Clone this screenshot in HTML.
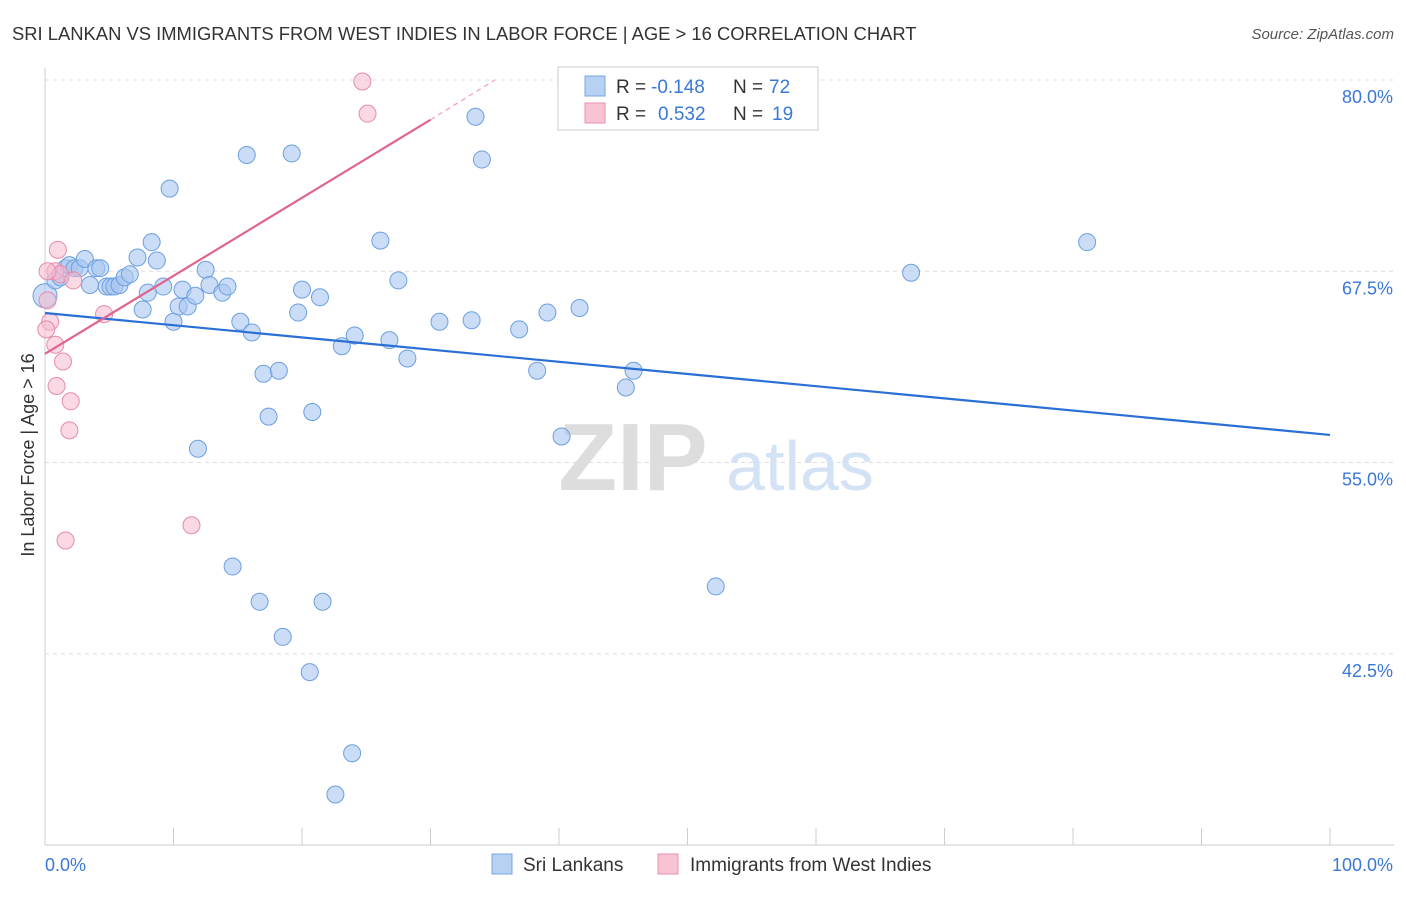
<!DOCTYPE html>
<html><head><meta charset="utf-8"><style>
body{margin:0;background:#fff;font-family:"Liberation Sans",sans-serif}
svg text{font-family:"Liberation Sans",sans-serif}
</style></head><body>
<svg width="1406" height="892" xmlns="http://www.w3.org/2000/svg">
<text x="12" y="40" font-size="18.4" fill="#333">SRI LANKAN VS IMMIGRANTS FROM WEST INDIES IN LABOR FORCE | AGE &gt; 16 CORRELATION CHART</text>
<text x="1394" y="39" font-size="15" fill="#555" font-style="italic" text-anchor="end">Source: ZipAtlas.com</text>
<g id="grid"></g>
<g><text x="633" y="490" font-size="96" fill="#ddd" text-anchor="middle" font-family="Liberation Serif" font-weight="bold">ZIP</text><text x="800" y="490" font-size="70" fill="#d4e2f5" text-anchor="middle">atlas</text></g>
<g id="axes"></g>
<g id="pts"></g>
<g id="lines"></g>
<text transform="translate(34,455) rotate(-90)" font-size="18" fill="#333" text-anchor="middle">In Labor Force | Age &gt; 16</text>
<g>
<rect x="558" y="67" width="260" height="63" fill="#fff" stroke="#ccc"/>
<rect x="585" y="76" width="20" height="20" fill="#b7d1f3" stroke="#7aa6e0"/>
<text x="616" y="93" font-size="19" fill="#333">R = </text><text x="651" y="93" font-size="19" fill="#3a78d6">-0.148</text>
<text x="733" y="93" font-size="19" fill="#333">N = </text><text x="769" y="93" font-size="19" fill="#3a78d6">72</text>
<rect x="585" y="103" width="20" height="20" fill="#f8c4d4" stroke="#e891ae"/>
<text x="616" y="120" font-size="19" fill="#333">R = </text><text x="658" y="120" font-size="19" fill="#3a78d6">0.532</text>
<text x="733" y="120" font-size="19" fill="#333">N = </text><text x="772" y="120" font-size="19" fill="#3a78d6">19</text>
</g>
<g>
<rect x="492" y="854" width="20" height="20" fill="#b7d1f3" stroke="#7aa6e0"/>
<text x="523" y="871" font-size="19" fill="#333">Sri Lankans</text>
<rect x="658" y="854" width="20" height="20" fill="#f8c4d4" stroke="#e891ae"/>
<text x="690" y="871" font-size="19" fill="#333">Immigrants from West Indies</text>
</g>
</svg>
<script>
const yTicks=[80,67.5,55,42.5];
const yTickLabels=["80.0%","67.5%","55.0%","42.5%"];
const xTicks=[0,10,20,30,40,50,60,70,80,90,100];
const blueX=[0.0,0.8,1.2,1.6,1.9,2.3,2.7,3.1,3.5,4.0,4.3,4.8,5.1,5.4,5.8,6.2,6.6,7.2,7.6,8.0,8.3,8.7,9.2,9.7,10.0,10.4,10.7,11.1,11.7,11.9,12.5,12.8,13.8,14.2,14.6,15.2,15.7,16.1,16.7,17.0,17.4,18.2,18.5,19.2,19.7,20.0,20.6,20.8,21.4,21.6,22.6,23.1,23.9,24.1,26.1,26.8,27.5,28.2,30.7,33.2,33.5,34.0,36.9,38.3,39.1,40.2,41.6,45.2,45.8,52.2,67.4,81.1];
const blueY=[65.9,66.9,67.1,67.7,67.9,67.7,67.7,68.3,66.6,67.7,67.7,66.5,66.5,66.5,66.6,67.1,67.3,68.4,65.0,66.1,69.4,68.2,66.5,72.9,64.2,65.2,66.3,65.2,65.9,55.9,67.6,66.6,66.1,66.5,48.2,64.2,75.1,63.5,45.9,60.8,58.0,61.0,43.6,75.2,64.8,66.3,41.3,58.3,65.8,45.9,33.3,62.6,36.0,63.3,69.5,63.0,66.9,61.8,64.2,64.3,77.6,74.8,63.7,61.0,64.8,56.7,65.1,59.9,61.0,46.9,67.4,69.4];
const pinkX=[24.7,25.1,1.0,0.8,1.2,2.2,0.2,0.4,0.8,1.4,0.9,2.0,1.9,4.6,1.6,11.4,0.1,0.2];
const pinkY=[79.9,77.8,68.9,67.5,67.3,66.9,65.6,64.2,62.7,61.6,60.0,59.0,57.1,64.7,49.9,50.9,63.7,67.5];
const blueLine=[[0,64.77],[100,56.8]];
const pinkLine=[[0,62.1],[30,77.4],[35,80]];
const X=v=>45+v*12.85, Y=v=>80+(80-v)*15.3;
const NS="http://www.w3.org/2000/svg";
function mk(t,a,p){const e=document.createElementNS(NS,t);for(const k in a)e.setAttribute(k,a[k]);p.appendChild(e);return e;}
const grid=document.getElementById('grid'),axes=document.getElementById('axes'),pts=document.getElementById('pts'),lines=document.getElementById('lines');
yTicks.forEach((v,i)=>{
 const l=mk('line',{x1:45,x2:1394,y1:Y(v),y2:Y(v),stroke:'#ddd','stroke-dasharray':'4,4'},grid);
 
 
 const t=mk('text',{x:1393,y:Y(v)+23,'font-size':18,fill:'#3a78d6','text-anchor':'end'},axes);
 t.textContent=yTickLabels[i];
 
 
});
mk('line',{x1:45,x2:45,y1:68,y2:845,stroke:'#ccc'},axes);
mk('line',{x1:45,x2:1394,y1:845,y2:845,stroke:'#ccc'},axes);
xTicks.forEach(v=>{const t=mk('line',{x1:X(v),x2:X(v),y1:828,y2:845,stroke:'#ccc'},axes);
 
 });
const x0=mk('text',{x:45,y:871,'font-size':18,fill:'#3a78d6'},axes);x0.textContent='0.0%';


const x1=mk('text',{x:1393,y:871,'font-size':18,fill:'#3a78d6','text-anchor':'end'},axes);x1.textContent='100.0%';


blueX.forEach((v,i)=>{const c=mk('circle',{cx:X(v),cy:Y(blueY[i]),r:i==0?12:8.5,fill:'#a9c7f0','fill-opacity':0.6,stroke:'#6c9fe0','stroke-width':1},pts);
 
 });
pinkX.forEach((v,i)=>{const c=mk('circle',{cx:X(v),cy:Y(pinkY[i]),r:8.5,fill:'#f6b9cd','fill-opacity':0.55,stroke:'#e88aa8','stroke-width':1},pts);
 
 });
const bl=mk('line',{x1:X(blueLine[0][0]),y1:Y(blueLine[0][1]),x2:X(blueLine[1][0]),y2:Y(blueLine[1][1]),stroke:'#2a6fd6','stroke-width':2.2},lines);


const pl=mk('line',{x1:X(pinkLine[0][0]),y1:Y(pinkLine[0][1]),x2:X(pinkLine[1][0]),y2:Y(pinkLine[1][1]),stroke:'#e0648e','stroke-width':2.2},lines);


const pd=mk('line',{x1:X(pinkLine[1][0]),y1:Y(pinkLine[1][1]),x2:X(pinkLine[2][0]),y2:Y(pinkLine[2][1]),stroke:'#f0a0bb','stroke-width':1.2,'stroke-dasharray':'5,4'},lines);


</script>
</body></html>
